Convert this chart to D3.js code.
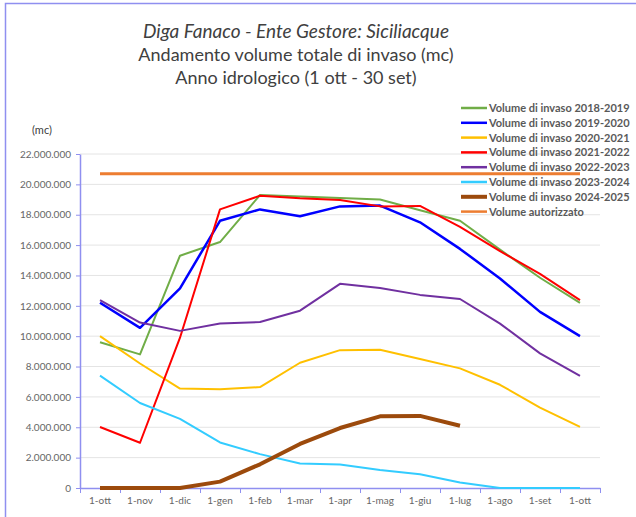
<!DOCTYPE html>
<html>
<head>
<meta charset="utf-8">
<script src="https://cdn.jsdelivr.net/npm/d3@7"></script>
<style>
  html, body { margin: 0; padding: 0; background: #fff; }
  svg text { font-family: Lato, "Open Sans", sans-serif; }
</style>
</head>
<body>
<svg id="chart" width="636" height="517"></svg>
<script>
// categories (hydrological year, first of month)
var months = ['1-ott', '1-nov', '1-dic', '1-gen', '1-feb', '1-mar', '1-apr', '1-mag', '1-giu', '1-lug', '1-ago', '1-set', '1-ott '];

// series values (mc)
var v2018 = [9600000, 8800000, 15300000, 16200000, 19300000, 19200000, 19100000, 19000000, 18300000, 17600000, 15700000, 13850000, 12200000];
var v2019 = [12200000, 10550000, 13150000, 17600000, 18350000, 17900000, 18550000, 18600000, 17500000, 15750000, 13800000, 11600000, 10000000];
var v2020 = [10000000, 8200000, 6550000, 6500000, 6650000, 8250000, 9080000, 9100000, 8500000, 7880000, 6800000, 5300000, 4020000];
var v2021 = [4020000, 2980000, 9900000, 18350000, 19250000, 19080000, 18970000, 18550000, 18580000, 17200000, 15600000, 14100000, 12380000];
var v2022 = [12380000, 10900000, 10350000, 10830000, 10930000, 11680000, 13450000, 13180000, 12720000, 12450000, 10830000, 8870000, 7380000];
var v2023 = [7400000, 5600000, 4550000, 3000000, 2230000, 1620000, 1550000, 1180000, 900000, 360000, 0, 0, 0];
var v2024 = [0, 0, 0, 420000, 1560000, 2900000, 3950000, 4720000, 4750000, 4100000];
var vAuth = [20700000, 20700000, 20700000, 20700000, 20700000, 20700000, 20700000, 20700000, 20700000, 20700000, 20700000, 20700000, 20700000];

var seriesNames = ['Volume di invaso 2018-2019', 'Volume di invaso 2019-2020', 'Volume di invaso 2020-2021',
  'Volume di invaso 2021-2022', 'Volume di invaso 2022-2023', 'Volume di invaso 2023-2024',
  'Volume di invaso 2024-2025', 'Volume autorizzato'];
var seriesValues = [v2018, v2019, v2020, v2021, v2022, v2023, v2024, vAuth];
var seriesColors = ['#70ad47', '#0000ff', '#ffc000', '#ff0000', '#7030a0', '#33ccff', '#9c4a0c', '#ed7d31'];
var seriesWidths = [2, 2.5, 2, 2, 2, 2, 4, 3];

var yTicks = [0, 2000000, 4000000, 6000000, 8000000, 10000000, 12000000, 14000000, 16000000, 18000000, 20000000, 22000000];

var titleLines = ['Diga Fanaco - Ente Gestore: Siciliacque', 'Andamento volume totale di invaso (mc)', 'Anno idrologico (1 ott - 30 set)'];

var svg = d3.select('#chart');
var plotL = 80, plotR = 600, plotT = 154, plotB = 488;

var it = d3.formatLocale({ decimal: ',', thousands: '.', grouping: [3], currency: ['', '€'] });
var fmt = it.format(',');

// outer frame
svg.append('rect').attr('x', 5.5).attr('y', 3.5).attr('width', 700).attr('height', 600)
  .attr('fill', 'none').attr('stroke', '#8f8ff0').attr('stroke-width', 1.5);

// titles
titleLines.forEach(function(t, i) {
  svg.append('text').attr('x', 296).attr('y', 38 + i * 23).attr('text-anchor', 'middle')
    .attr('fill', '#404040').attr('font-size', i === 0 ? '19px' : '18px')
    .attr('font-style', i === 0 ? 'italic' : 'normal').text(t);
});

var x = d3.scaleBand().domain(months).range([plotL, plotR]);
var xEdge = d3.scaleLinear().domain([0, months.length]).range([plotL, plotR]);
var y = d3.scaleLinear().domain([0, 22000000]).range([plotB, plotT]);

// grid
svg.append('g').selectAll('line').data(yTicks.slice(1)).join('line')
  .attr('x1', plotL).attr('x2', plotR)
  .attr('y1', function(d) { return y(d); }).attr('y2', function(d) { return y(d); })
  .attr('stroke', '#e4e4e4').attr('stroke-width', 1);

// y axis
var yAxis = svg.append('g').attr('transform', 'translate(' + plotL + ',0)')
  .call(d3.axisLeft(y).tickValues(yTicks).tickFormat(fmt).tickSize(4).tickSizeOuter(0).tickPadding(5));
yAxis.select('.domain').attr('stroke', '#8f8ff0').attr('stroke-width', 1.5);
yAxis.selectAll('.tick line').attr('stroke', '#8f8ff0');
yAxis.selectAll('text').attr('fill', '#666').attr('font-size', '10px').attr('font-family', 'Lato, sans-serif');

svg.append('text').attr('x', 32).attr('y', 134).attr('fill', '#404040').attr('font-size', '11px').text('(mc)');

// x axis: tick marks between categories, labels centred
var xTickG = svg.append('g').attr('transform', 'translate(0,' + plotB + ')')
  .call(d3.axisBottom(xEdge).tickValues(d3.range(months.length + 1)).tickFormat('').tickSize(5).tickSizeOuter(0));
xTickG.select('.domain').attr('stroke', '#8f8ff0').attr('stroke-width', 1.5);
xTickG.selectAll('.tick line').attr('stroke', '#8f8ff0');

var xLab = svg.append('g').attr('transform', 'translate(0,' + plotB + ')')
  .call(d3.axisBottom(x).tickSize(0).tickPadding(9));
xLab.select('.domain').remove();
xLab.selectAll('text').attr('fill', '#666').attr('font-size', '10px').attr('font-family', 'Lato, sans-serif');

// lines
var line = d3.line()
  .x(function(d, i) { return x(months[i]) + x.bandwidth() / 2; })
  .y(function(d) { return y(d); });

var drawOrder = [7, 0, 1, 2, 3, 4, 5, 6];
drawOrder.forEach(function(k) {
  svg.append('path').datum(seriesValues[k]).attr('d', line)
    .attr('fill', 'none').attr('stroke', seriesColors[k]).attr('stroke-width', seriesWidths[k])
    .attr('stroke-linejoin', 'round');
});

// legend
var lg = svg.append('g').attr('transform', 'translate(461,108)');
seriesNames.forEach(function(n, i) {
  var ly = i * 14.8;
  lg.append('line').attr('x1', 0).attr('x2', 26).attr('y1', ly).attr('y2', ly)
    .attr('stroke', seriesColors[i]).attr('stroke-width', i === 6 ? 4 : 2.5);
  lg.append('text').attr('x', 28).attr('y', ly + 4).attr('fill', '#595959')
    .attr('font-size', '11px').attr('font-weight', 'bold').text(n);
});
</script>
</body>
</html>
